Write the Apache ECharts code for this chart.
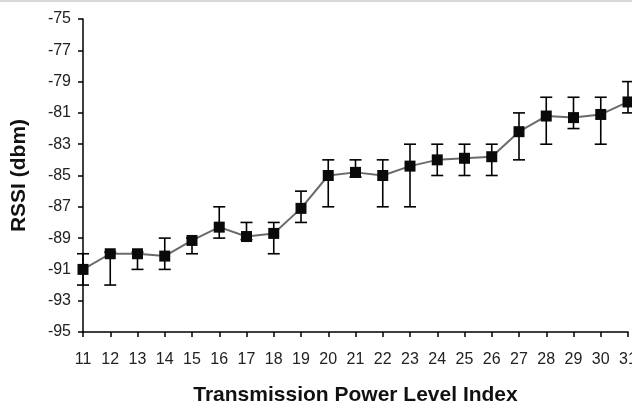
<!DOCTYPE html>
<html>
<head>
<meta charset="utf-8">
<script src="https://cdn.jsdelivr.net/npm/echarts@6/dist/echarts.min.js"></script>
<style>
html,body{margin:0;padding:0;background:#fff;}
#chart{width:632px;height:405px;}
</style>
</head>
<body>
<div id="chart"></div>
<script>
const categories = ['11','12','13','14','15','16','17','18','19','20','21','22','23','24','25','26','27','28','29','30','31'];
const rssi  = [-91, -90, -90, -90.15, -89.15, -88.3, -88.9, -88.7, -87.1, -85, -84.8, -85, -84.4, -84, -83.9, -83.8, -82.2, -81.2, -81.3, -81.1, -80.3];
const upper = [-90, -89.9, -89.9, -89, -89, -87, -88, -88, -86, -84, -84, -84, -83, -83, -83, -83, -81, -80, -80, -80, -79];
const lower = [-92, -92, -91, -91, -90, -89, -89.1, -90, -88, -87, -85.1, -87, -87, -85, -85, -85, -84, -83, -82, -83, -81];
const yMin = -95, yMax = -75, yStep = 2;

const FONT = "'Liberation Sans', Arial, sans-serif";
const chart = echarts.init(document.getElementById('chart'), null, {renderer: 'canvas'});

const errData = categories.map((c, i) => [i, upper[i], lower[i]]);

function renderErr(params, api) {
  const x = api.value(0);
  const pHi = api.coord([x, api.value(1)]);
  const pLo = api.coord([x, api.value(2)]);
  const w = 6;
  const st = {stroke: '#000', lineWidth: 1.6};
  return {
    type: 'group',
    children: [
      {type: 'line', shape: {x1: pHi[0], y1: pHi[1], x2: pLo[0], y2: pLo[1]}, style: st},
      {type: 'line', shape: {x1: pHi[0] - w, y1: pHi[1], x2: pHi[0] + w, y2: pHi[1]}, style: st},
      {type: 'line', shape: {x1: pLo[0] - w, y1: pLo[1], x2: pLo[0] + w, y2: pLo[1]}, style: st}
    ]
  };
}

chart.setOption({
  animation: false,
  backgroundColor: '#fff',
  grid: {left: 83, right: 4, top: 19, bottom: 73, containLabel: false, outerBoundsMode: 'none'},
  graphic: [{
    type: 'rect', left: 0, top: 0, shape: {x: 0, y: 0, width: 632, height: 2},
    style: {fill: '#d9d9d9'}, silent: true
  }],
  xAxis: {
    type: 'category',
    data: categories,
    boundaryGap: false,
    name: 'Transmission Power Level Index',
    nameLocation: 'middle',
    nameGap: 53,
    nameTextStyle: {fontFamily: FONT, fontSize: 21, fontWeight: 'bold', color: '#111'},
    axisLine: {lineStyle: {color: '#000', width: 1.5}},
    axisTick: {show: true, length: 5, inside: false, alignWithLabel: true, lineStyle: {color: '#000', width: 1.5}},
    axisLabel: {interval: 0, margin: 20, fontFamily: FONT, fontSize: 16, color: '#222'},
    splitLine: {show: false}
  },
  yAxis: {
    type: 'value',
    min: yMin, max: yMax, interval: yStep,
    name: 'RSSI (dbm)',
    nameLocation: 'middle',
    nameGap: 53,
    nameRotate: 90,
    nameTextStyle: {fontFamily: FONT, fontSize: 21, fontWeight: 'bold', color: '#111'},
    axisLine: {show: true, lineStyle: {color: '#000', width: 1.5}},
    axisTick: {show: true, length: 5, lineStyle: {color: '#000', width: 1.5}},
    axisLabel: {margin: 12, fontFamily: FONT, fontSize: 16, color: '#222'},
    splitLine: {show: false}
  },
  series: [
    {
      type: 'custom',
      name: 'err',
      renderItem: renderErr,
      data: errData,
      z: 1,
      silent: true
    },
    {
      type: 'line',
      name: 'RSSI',
      data: rssi,
      symbol: 'rect',
      symbolSize: 11,
      itemStyle: {color: '#0a0a0a'},
      lineStyle: {color: '#6a6a6a', width: 2},
      z: 3
    }
  ]
});
</script>
</body>
</html>
